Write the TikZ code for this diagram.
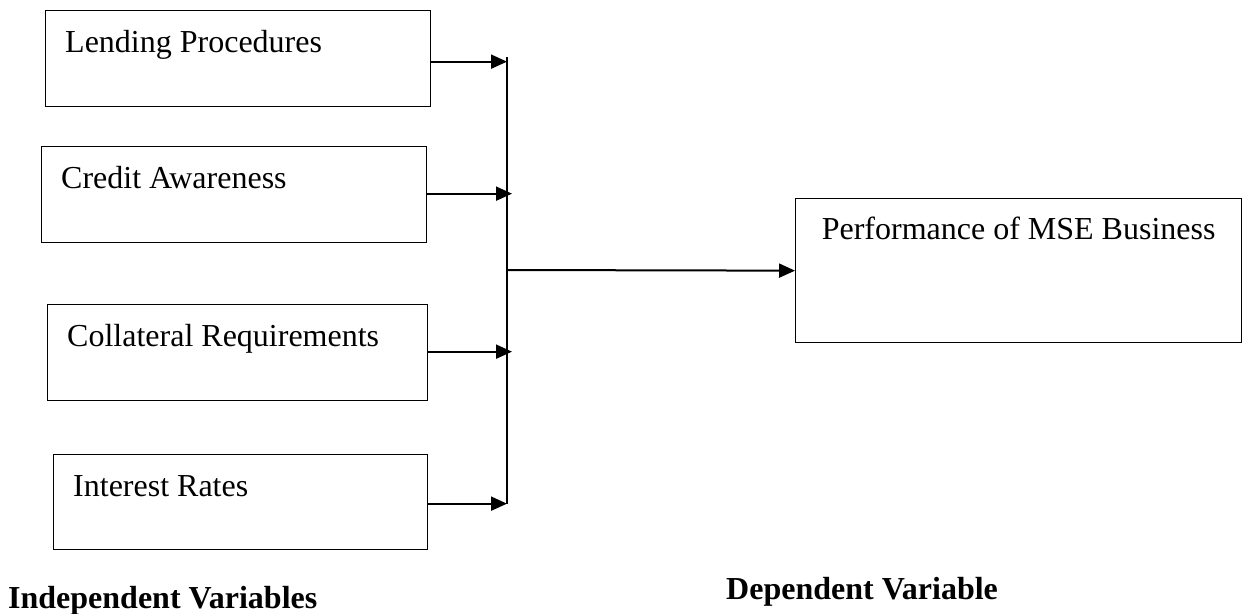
\documentclass[tikz,border=0pt]{standalone}
\usepackage{fontspec}
\setmainfont{Liberation Serif}
\usepackage{tikz}
\usetikzlibrary{arrows.meta, positioning, calc}
\tikzset{
  varbox/.style={rectangle, draw=black, line width=1.3pt, inner sep=0pt,
                 anchor=north west},
  lbl/.style={anchor=base west, inner sep=0pt,
              font=\fontsize{32}{38}\selectfont},
  heading/.style={anchor=base west, inner sep=0pt,
              font=\fontsize{32}{38}\selectfont\bfseries},
  arc/.style={-{Triangle[length=16pt, width=14pt]}, line width=2pt},
  bus/.style={line width=1.3pt}
}

\begin{document}
\begin{tikzpicture}[x=1pt, y=-1pt]
  \useasboundingbox (0,0) rectangle (1246,613);
  % independent variables
  \foreach \txt/\xl/\yt/\w/\h [count=\i] in {
      Lending Procedures/45/10/385/96,
      Credit Awareness/41/146/385/96,
      Collateral Requirements/47/304/380/96,
      Interest Rates/53/454/374/95} {
    \node[varbox, minimum width=\w pt, minimum height=\h pt] (b\i) at (\xl,\yt) {};
    \node[lbl] (t\i) at ([xshift=20pt, yshift=-42pt]b\i.north west) {\txt};
  }
  % dependent variable
  \node[varbox, minimum width=446pt, minimum height=144pt] (rb) at (795,198) {};
  \node[lbl, anchor=base] (rt) at ([yshift=-41pt]rb.north) {Performance of MSE Business};
  % bus and arrows
  \coordinate (bustop) at (507,57);
  \coordinate (busbot) at (507,504);
  \coordinate (hub) at (507,270);
  \draw[bus] (bustop) -- (busbot);
  \draw[arc] ([yshift=-3pt]b1.east) -- ([yshift=-3pt]b1.east -| bustop);
  \draw[arc, shorten >=-5pt] ([yshift=1pt]b2.east) -- ([yshift=1pt]b2.east -| bustop);
  \draw[arc, shorten >=-5pt] ([yshift=1pt]b3.east) -- ([yshift=1pt]b3.east -| bustop);
  \draw[arc] ([yshift=-1.5pt]b4.east) -- ([yshift=-1.5pt]b4.east -| bustop);
  \draw[arc] (hub) -- (rb.west);
  % captions
  \node[heading] (indep) at (8,608) {Independent Variables};
  \node[heading] (dep) at (726,599) {Dependent Variable};
\end{tikzpicture}
\end{document}
